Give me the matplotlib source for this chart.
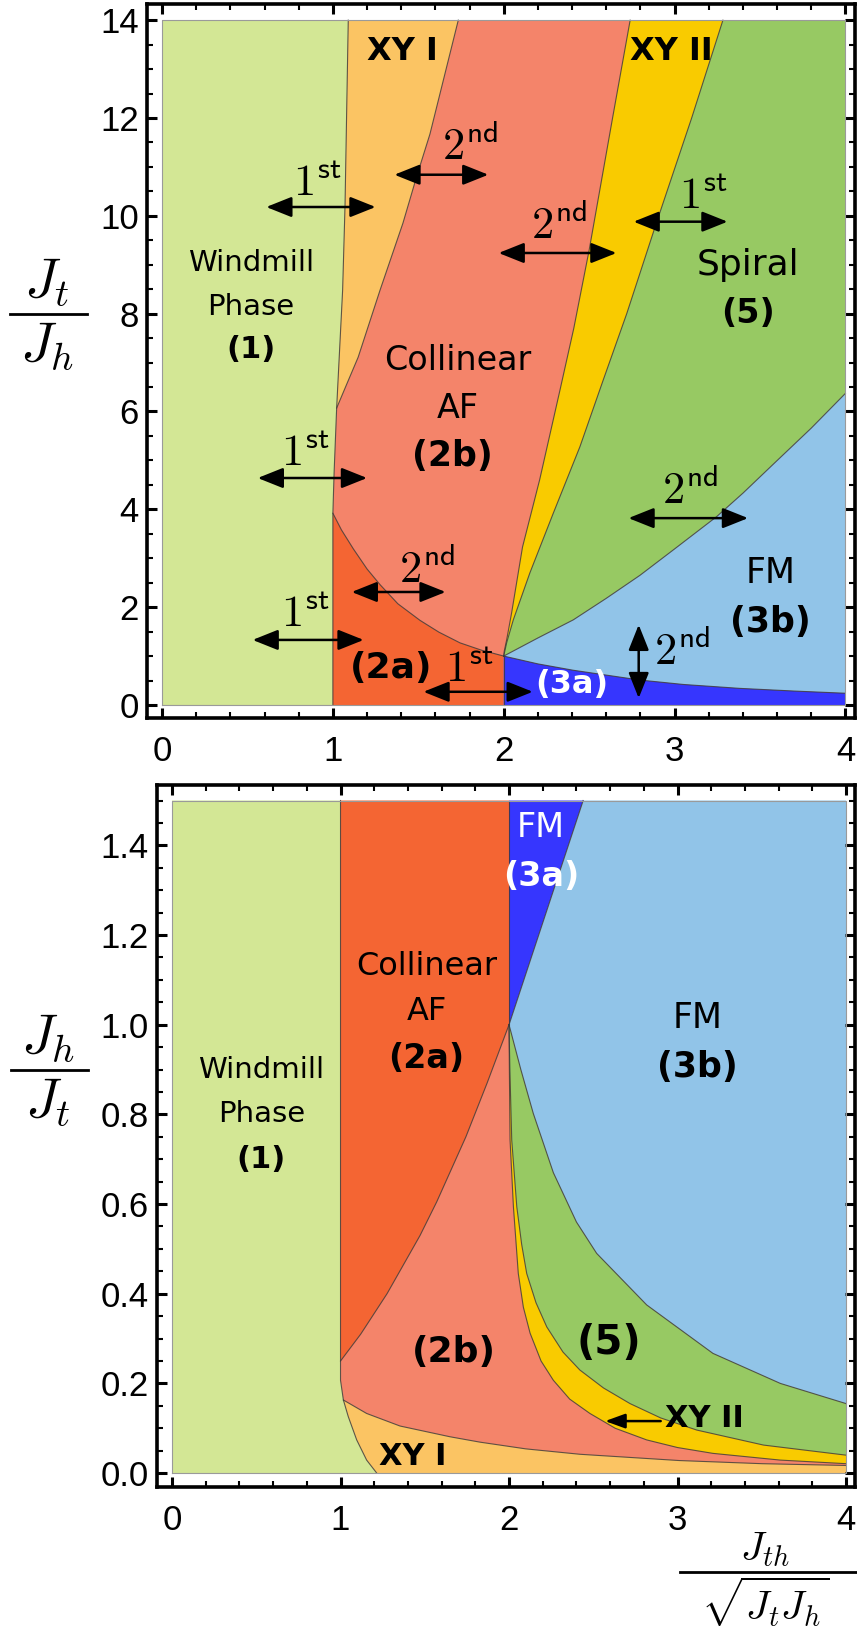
import matplotlib
matplotlib.use("Agg")
import matplotlib.pyplot as plt
from matplotlib.patches import Polygon
from matplotlib.lines import Line2D
from matplotlib.ticker import MultipleLocator, FixedLocator

plt.rcParams['mathtext.fontset'] = 'cm'

# ---- phase colours ----
C_WIND = '#d3e795'
C_XY1 = '#fbc463'
C_2B = '#f4846a'
C_2A = '#f46533'
C_XY2 = '#f9cb00'
C_SPIR = '#97c963'
C_FM3B = '#91c4e8'
C_FM3A = '#3636fe'

# ---- top panel boundaries (x = Jth/sqrt(JtJh), y = Jt/Jh) ----
b1_x = [1.0, 1.0, 1.007, 1.022, 1.057, 1.071, 1.09]          # windmill edge
b1_y = [0.0, 3.92, 4.74, 6.07, 8.48, 10.2, 14.0]
b2_x = [1.022, 1.08, 1.148, 1.276, 1.41, 1.49, 1.568, 1.734]  # XY I / 2b
b2_y = [6.07, 6.55, 7.11, 8.48, 9.85, 10.8, 11.67, 14.0]
b3_x = [2.0, 2.003, 2.017, 2.046, 2.11, 2.21, 2.33, 2.41, 2.50, 2.637, 2.74]   # 2b / XY II
b3_y = [1.0, 1.1, 1.33, 1.88, 3.23, 4.60, 6.45, 7.7, 9.3, 12.0, 14.0]
b4_x = [2.0, 2.017, 2.056, 2.153, 2.29, 2.446, 2.582, 2.72, 2.895, 3.10, 3.283]  # XY II / spiral
b4_y = [1.0, 1.27, 1.74, 2.70, 3.92, 5.28, 6.64, 8.0, 9.87, 12.0, 14.0]
b5_x = [2.0, 2.2, 2.407, 2.6, 2.797, 3.0, 3.246, 3.4, 3.577, 3.8, 4.0]   # spiral / FM 3b
b5_y = [1.0, 1.37, 1.74, 2.18, 2.65, 3.19, 3.85, 4.33, 4.92, 5.66, 6.37]
b6_x = [2.0, 2.2, 2.407, 2.797, 3.05, 3.38, 3.7, 4.0]           # FM 3b / FM 3a
b6_y = [1.0, 0.84, 0.71, 0.51, 0.42, 0.34, 0.285, 0.24]
b7_x = [1.0, 1.05, 1.12, 1.2, 1.276, 1.38, 1.51, 1.62, 1.744, 1.87, 2.0]   # 2a / 2b
b7_y = [3.92, 3.58, 3.19, 2.78, 2.46, 2.07, 1.73, 1.49, 1.27, 1.12, 1.0]

# ---- bottom panel boundaries (y = Jh/Jt) ----
c1_x = [1.0, 1.0, 1.0, 1.017, 1.046, 1.096, 1.155, 1.215]     # windmill edge
c1_y = [1.5, 0.25, 0.207, 0.163, 0.126, 0.074, 0.029, 0.0]
c2_x = [1.017, 1.155, 1.353, 1.65, 1.828, 2.1, 2.42, 3.01, 3.5, 4.0]    # XY I / 2b
c2_y = [0.163, 0.133, 0.105, 0.081, 0.069, 0.054, 0.042, 0.028, 0.021, 0.017]
c3_x = [2.0, 2.002, 2.006, 2.026, 2.055, 2.085, 2.125, 2.19, 2.263, 2.36, 2.48,
        2.63, 2.817, 3.0, 3.21, 3.61, 4.0]                      # 2b / XY II
c3_y = [1.0, 0.9, 0.743, 0.594, 0.445, 0.37, 0.312, 0.25, 0.207, 0.165, 0.133,
        0.10, 0.074, 0.057, 0.044, 0.029, 0.021]
c4_x = [2.0, 2.005, 2.016, 2.046, 2.075, 2.105, 2.16, 2.224, 2.32, 2.42, 2.56,
        2.718, 2.9, 3.114, 3.51, 4.0]                           # XY II / spiral
c4_y = [1.0, 0.9, 0.743, 0.594, 0.51, 0.445, 0.38, 0.326, 0.27, 0.230, 0.19,
        0.155, 0.123, 0.096, 0.0625, 0.040]
c5_x = [2.0, 2.07, 2.144, 2.263, 2.40, 2.52, 2.817, 3.21, 3.61, 4.0]     # spiral / FM 3b
c5_y = [1.0, 0.90, 0.802, 0.67, 0.56, 0.49, 0.375, 0.267, 0.200, 0.155]
c6_x = [2.0, 2.44]                                            # FM 3a / FM 3b
c6_y = [1.0, 1.5]
c7_x = [1.0, 1.12, 1.276, 1.472, 1.571, 1.744, 1.87, 2.0]     # 2a / 2b
c7_y = [0.25, 0.31, 0.40, 0.53, 0.605, 0.75, 0.87, 1.0]

# ---- annotations ----
top_labels = [
    # text, x, y, size, weight, colour
    ('Windmill', 0.52, 9.04, 21, 'normal', 'k'),
    ('Phase', 0.52, 8.14, 21, 'normal', 'k'),
    ('(1)', 0.52, 7.26, 22, 'bold', 'k'),
    ('XY I', 1.41, 13.35, 23, 'bold', 'k'),
    ('XY II', 2.98, 13.35, 23, 'bold', 'k'),
    ('Collinear', 1.73, 7.04, 24, 'normal', 'k'),
    ('AF', 1.73, 6.06, 24, 'normal', 'k'),
    ('(2b)', 1.70, 5.10, 25, 'bold', 'k'),
    ('Spiral', 3.43, 9.0, 26, 'normal', 'k'),
    ('(5)', 3.43, 8.0, 24, 'bold', 'k'),
    ('FM', 3.56, 2.69, 25, 'normal', 'k'),
    ('(3b)', 3.56, 1.69, 25, 'bold', 'k'),
    ('(2a)', 1.34, 0.76, 26, 'bold', 'k'),
    ('(3a)', 2.40, 0.41, 23, 'bold', 'white'),
]
top_arrows = [
    # x0, y0, x1, y1, number, ordinal suffix, label x, label y
    (0.61, 10.18, 1.25, 10.18, '1', 'st', 0.91, 10.67),
    (1.36, 10.84, 1.91, 10.84, '2', 'nd', 1.80, 11.40),
    (1.97, 9.24, 2.66, 9.24, '2', 'nd', 2.32, 9.78),
    (2.76, 9.88, 3.31, 9.88, '1', 'st', 3.17, 10.40),
    (0.56, 4.64, 1.20, 4.64, '1', 'st', 0.84, 5.15),
    (1.11, 2.31, 1.66, 2.31, '2', 'nd', 1.55, 2.76),
    (0.53, 1.33, 1.18, 1.33, '1', 'st', 0.84, 1.84),
    (1.53, 0.27, 2.17, 0.27, '1', 'st', 1.80, 0.72),
    (2.79, 1.64, 2.79, 0.14, '2', 'nd', 3.04, 1.08),
    (2.73, 3.82, 3.43, 3.82, '2', 'nd', 3.09, 4.36),
]
bottom_labels = [
    ('Windmill', 0.53, 0.90, 21, 'normal', 'k'),
    ('Phase', 0.53, 0.80, 21, 'normal', 'k'),
    ('(1)', 0.53, 0.70, 22, 'bold', 'k'),
    ('Collinear', 1.51, 1.13, 23, 'normal', 'k'),
    ('AF', 1.51, 1.03, 23, 'normal', 'k'),
    ('(2a)', 1.51, 0.925, 24, 'bold', 'k'),
    ('FM', 2.19, 1.44, 24, 'normal', 'white'),
    ('(3a)', 2.19, 1.33, 24, 'bold', 'white'),
    ('FM', 3.12, 1.015, 25, 'normal', 'k'),
    ('(3b)', 3.12, 0.905, 25, 'bold', 'k'),
    ('(2b)', 1.67, 0.27, 26, 'bold', 'k'),
    ('(5)', 2.59, 0.29, 29, 'bold', 'k'),
    ('XY I', 1.43, 0.036, 22, 'bold', 'k'),
    ('XY II', 3.16, 0.122, 22, 'bold', 'k'),
]
xy2_arrow = (2.90, 0.116, 2.57, 0.116)

ARROW2 = '<|-|>,head_length=0.65,head_width=0.26'
ARROW1 = '-|>,head_length=0.55,head_width=0.2'


def poly(ax, xs, ys, color):
    ax.add_patch(Polygon(list(zip(xs, ys)), closed=True, facecolor=color,
                         edgecolor='none', zorder=1))


def edge(ax, xs, ys):
    ax.plot(xs, ys, color='#3a3a3a', lw=0.8, alpha=0.8, zorder=2,
            solid_joinstyle='round')


def style_axes(ax, ymajor, yminor):
    for s in ax.spines.values():
        s.set_linewidth(2.6)
    ax.xaxis.set_major_locator(FixedLocator([0, 1, 2, 3, 4]))
    ax.xaxis.set_minor_locator(MultipleLocator(0.2))
    ax.yaxis.set_major_locator(MultipleLocator(ymajor))
    ax.yaxis.set_minor_locator(MultipleLocator(yminor))
    ax.tick_params(which='both', direction='in', top=True, right=True)
    ax.tick_params(which='major', length=7, width=2.2, labelsize=25)
    ax.tick_params(which='minor', length=4, width=1.5)
    ax.tick_params(axis='x', which='major', pad=12)
    ax.tick_params(axis='y', which='major', pad=6)


def frame(ax, ytop):
    ax.plot([0, 4, 4, 0, 0], [0, 0, ytop, ytop, 0], color='#9a9a9a', lw=0.8, zorder=2)


def fraction(fig, num, den, xc, ybar, x0, x1, size, gap=5):
    # stacked fraction label in pixel coordinates of the 857x1636 canvas
    W, H = 857.0, 1636.0
    fig.text(xc / W, 1 - (ybar - gap) / H, num, fontsize=size, ha='center', va='bottom')
    fig.text(xc / W, 1 - (ybar + gap) / H, den, fontsize=size, ha='center', va='top')
    fig.add_artist(Line2D([x0 / W, x1 / W], [1 - ybar / H, 1 - ybar / H],
                          transform=fig.transFigure, color='k', lw=2.0))


fig = plt.figure(figsize=(8.57, 16.36), dpi=100)

# ================= top panel =================
ax1 = fig.add_axes([147 / 857, 1 - 718 / 1636, (855 - 147) / 857, (718 - 4) / 1636])
ax1.set_xlim(-0.088, 4.056)
ax1.set_ylim(-0.266, 14.33)

poly(ax1, [0, 4, 4, 0], [0, 0, 14, 14], C_2B)
poly(ax1, [0] + b1_x + [0], [0] + b1_y + [14], C_WIND)
poly(ax1, b1_x[3:] + b2_x[::-1], b1_y[3:] + b2_y[::-1], C_XY1)
poly(ax1, [1, 2] + b7_x[::-1], [0, 0] + b7_y[::-1], C_2A)
poly(ax1, b3_x + b4_x[::-1], b3_y + b4_y[::-1], C_XY2)
poly(ax1, b4_x + [4, 4] + b5_x[::-1], b4_y + [14, b5_y[-1]] + b5_y[::-1], C_SPIR)
poly(ax1, b5_x + [4] + b6_x[::-1], b5_y + [b6_y[-1]] + b6_y[::-1], C_FM3B)
poly(ax1, b6_x + [4, 2], b6_y + [0, 0], C_FM3A)

for xs, ys in [(b1_x, b1_y), (b2_x, b2_y), (b3_x, b3_y), (b4_x, b4_y),
               (b5_x, b5_y), (b6_x, b6_y), (b7_x, b7_y), ([2, 2], [0, 1])]:
    edge(ax1, xs, ys)
frame(ax1, 14)

for txt, x, y, size, weight, col in top_labels:
    ax1.text(x, y, txt, fontsize=size, fontweight=weight, color=col,
             ha='center', va='center', family='DejaVu Sans', zorder=5)

for x0, y0, x1, y1, num, sup, lx, ly in top_arrows:
    ax1.annotate('', xy=(x1, y1), xytext=(x0, y0), zorder=6,
                 arrowprops=dict(arrowstyle=ARROW2, mutation_scale=24, lw=1.8,
                                 color='k', shrinkA=0, shrinkB=0))
    ax1.text(lx, ly, r'$%s^{\mathsf{%s}}$' % (num, sup), fontsize=32,
             ha='center', va='center', zorder=6)

style_axes(ax1, 2, 0.5)
for lab in ax1.get_xticklabels() + ax1.get_yticklabels():
    lab.set_family('Liberation Sans')

# ================= bottom panel =================
ax2 = fig.add_axes([157 / 857, 1 - 1487 / 1636, (855 - 157) / 857, (1487 - 785) / 1636])
ax2.set_xlim(-0.089, 4.053)
ax2.set_ylim(-0.031, 1.5346)

poly(ax2, [0, 4, 4, 0], [0, 0, 1.5, 1.5], C_2B)
poly(ax2, c2_x + [4, c1_x[-1]] + c1_x[3:][::-1], c2_y + [0, 0] + c1_y[3:][::-1], C_XY1)
poly(ax2, [0] + c1_x + [0], [1.5] + c1_y + [0], C_WIND)
poly(ax2, [1, 2, 2] + c7_x[::-1], [1.5, 1.5, 1.0] + c7_y[::-1], C_2A)
poly(ax2, c6_x + [2], c6_y + [1.5], C_FM3A)
poly(ax2, c6_x + [4, 4] + c5_x[::-1], c6_y + [1.5, c5_y[-1]] + c5_y[::-1], C_FM3B)
poly(ax2, c5_x + [4] + c4_x[::-1], c5_y + [c4_y[-1]] + c4_y[::-1], C_SPIR)
poly(ax2, c4_x + [4] + c3_x[::-1], c4_y + [c3_y[-1]] + c3_y[::-1], C_XY2)

for xs, ys in [(c1_x, c1_y), (c2_x, c2_y), (c3_x, c3_y), (c4_x, c4_y),
               (c5_x, c5_y), (c6_x, c6_y), (c7_x, c7_y), ([2, 2], [1, 1.5])]:
    edge(ax2, xs, ys)
frame(ax2, 1.5)

for txt, x, y, size, weight, col in bottom_labels:
    ax2.text(x, y, txt, fontsize=size, fontweight=weight, color=col,
             ha='center', va='center', family='DejaVu Sans', zorder=5)

ax2.annotate('', xy=(xy2_arrow[2], xy2_arrow[3]), xytext=(xy2_arrow[0], xy2_arrow[1]),
             zorder=6, arrowprops=dict(arrowstyle=ARROW1, mutation_scale=22, lw=1.8,
                                       color='k', shrinkA=0, shrinkB=0))

style_axes(ax2, 0.2, 0.05)
ax2.yaxis.set_major_formatter(plt.FuncFormatter(lambda v, p: '%.1f' % v))
for lab in ax2.get_xticklabels() + ax2.get_yticklabels():
    lab.set_family('Liberation Sans')

# ---- axis labels ----
fraction(fig, r'$J_t$', r'$J_h$', 47, 314, 10, 87, 40)
fraction(fig, r'$J_h$', r'$J_t$', 48, 1070, 11, 88, 40)
fraction(fig, r'$J_{th}$', r'$\sqrt{J_t J_h}$', 765, 1572, 680, 856, 29, gap=3)

fig.savefig('out.png', dpi=100)
